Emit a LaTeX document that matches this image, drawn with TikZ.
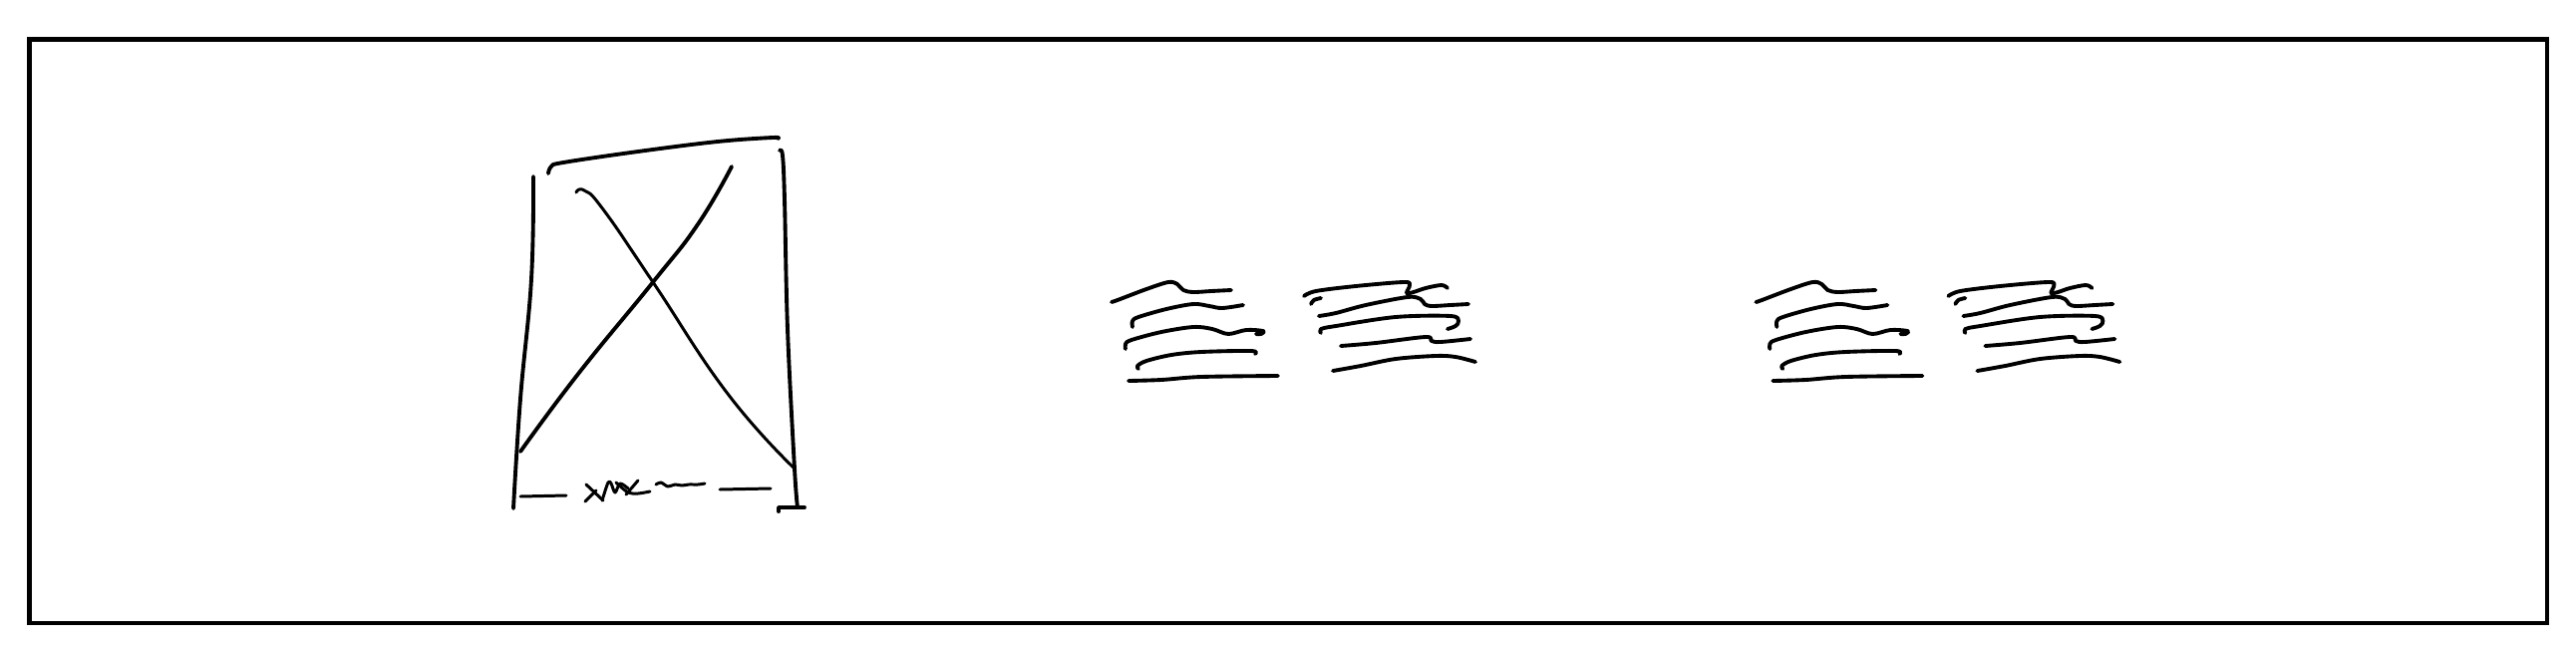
\documentclass[tikz,border=0pt]{standalone}
\newcommand\scribblepair{%
\draw[ink] plot[smooth,tension=0.55] coordinates {(1115,303) (1121,301) (1150,290) (1172,283) (1181,285) (1187,291) (1197,293) (1215,292) (1235,291)};
\draw[ink] plot[smooth,tension=0.55] coordinates {(1136,328) (1136,322) (1142,318) (1170,310) (1197,305) (1213,307) (1226,309) (1247,306)};
\draw[ink] plot[smooth,tension=0.55] coordinates {(1129,350) (1129,345) (1135,341) (1165,333) (1197,328) (1216,330) (1232,335) (1250,331) (1267,332) (1265,335) (1260,335)};
\draw[ink] plot[smooth,tension=0.55] coordinates {(1142,370) (1141,367) (1150,362) (1175,356) (1205,353) (1255,352) (1259,355)};
\draw[ink] plot[smooth,tension=0.55] coordinates {(1132,382) (1165,381) (1205,378) (1282,377)};
\draw[ink] plot[smooth,tension=0.55] coordinates {(1308,297) (1320,292) (1360,287) (1408,283) (1414,286) (1411,294) (1418,293) (1430,289) (1446,286) (1452,289)};
\draw[ink] plot[smooth,tension=0.55] coordinates {(1315,305) (1318,301) (1325,299)};
\draw[ink] plot[smooth,tension=0.55] coordinates {(1323,317) (1340,314) (1370,306) (1412,298) (1425,300) (1429,305) (1436,307) (1455,306) (1473,305)};
\draw[ink] plot[smooth,tension=0.55] coordinates {(1325,334) (1325,330) (1340,327) (1400,318) (1455,317) (1463,322) (1460,327) (1452,330)};
\draw[ink] plot[smooth,tension=0.55] coordinates {(1345,347) (1380,344) (1430,338) (1436,342) (1445,343) (1475,340)};
\draw[ink] plot[smooth,tension=0.55] coordinates {(1337,372) (1365,367) (1400,360) (1440,357) (1460,358) (1480,363)};
}
\begin{document}
\begin{tikzpicture}[x=0.01cm,y=-0.01cm,
  ink/.style={line width=1.1pt,line cap=round,line join=round},
  thin ink/.style={line width=0.85pt,line cap=round,line join=round},
  frame/.style={line width=1.15pt}]
\useasboundingbox (0,0) rectangle (2584,648);
\fill[white] (0,0) rectangle (2584,648);
\draw[frame] (29.5,39.5) rectangle (2555,625);
% image placeholder box
\draw[ink] plot[smooth,tension=0.7] coordinates {(535,177) (533,280) (522,400) (515,510)};
\draw[ink] plot[smooth,tension=0.6] coordinates {(550,174) (553,167) (565,163) (640,152) (720,142) (775,138) (780,139)};
\draw[ink] plot[smooth,tension=0.6] coordinates {(782,151) (785,156) (787,200) (790,330) (797,470) (800,509)};
\draw[ink] (781,513) -- (781,509) -- (807,509);
\draw[thin ink] plot[smooth,tension=0.8] coordinates {(578,193) (586,191) (605,210) (655,283) (730,395) (797,470)};
\draw[ink] plot[smooth,tension=0.8] coordinates {(734,167) (700,225) (655,283) (580,375) (522,453)};
% caption scribble
\draw[thin ink] (522,498) -- (568,497);
\draw[thin ink] (722,491) -- (773,490);
\draw[thin ink] (588,486) -- (605,502);
\draw[thin ink] (587,503) -- (598,492);
\draw[thin ink] plot[smooth,tension=0.5] coordinates {(604,502) (610,484) (613,485) (617,494) (622,485) (630,490)};
\draw[thin ink] plot[smooth,tension=0.5] coordinates {(628,496) (640,482)};
\draw[thin ink] plot[smooth,tension=0.5] coordinates {(618,484) (630,494) (640,495) (652,493)};
\draw[thin ink] plot[smooth,tension=0.5] coordinates {(658,486) (663,484) (670,488) (677,486) (684,487) (691,486) (700,486) (707,485)};
% text scribbles
\scribblepair
\begin{scope}[xshift=6.46cm]
\scribblepair
\end{scope}
\end{tikzpicture}
\end{document}
